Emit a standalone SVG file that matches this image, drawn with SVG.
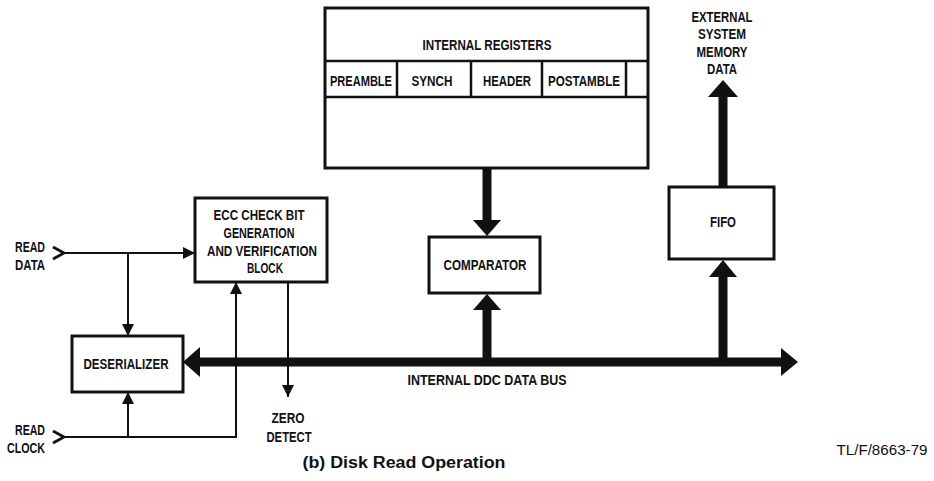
<svg xmlns="http://www.w3.org/2000/svg" width="934" height="481" viewBox="0 0 934 481">
<style>
.box{fill:#fff;stroke:#111;stroke-width:3}
.cell{fill:none;stroke:#111;stroke-width:2.5}
.thin{fill:none;stroke:#111;stroke-width:2}
.thick{fill:none;stroke:#111;stroke-width:9}
.head{fill:#111;stroke:none}
.lbl{font-family:"Liberation Sans",Arial,sans-serif;font-weight:bold;font-size:14.5px;fill:#111;text-anchor:middle}
.chev{fill:none;stroke:#111;stroke-width:2.8;stroke-linejoin:miter}
</style>
<defs>
<marker id="ah" viewBox="0 0 12 12" refX="12" refY="6" markerWidth="12" markerHeight="12" markerUnits="userSpaceOnUse" orient="auto">
<path d="M0,0 L12,6 L0,12 Z" fill="#111"/>
</marker>
</defs>
<rect width="934" height="481" fill="#fff"/>

<g id="connectors">
<!-- READ DATA input -->
<polyline class="chev" points="53,247 64,253 53,259"/>
<line class="thin" x1="64" y1="253" x2="195" y2="253" marker-end="url(#ah)"/>
<line class="thin" x1="128" y1="253" x2="128" y2="336" marker-end="url(#ah)"/>
<!-- READ CLOCK input -->
<polyline class="chev" points="53,431 64,437 53,443"/>
<line class="thin" x1="64" y1="437" x2="237" y2="437"/>
<line class="thin" x1="128" y1="437" x2="128" y2="392" marker-end="url(#ah)"/>
<line class="thin" x1="236" y1="437" x2="236" y2="282" marker-end="url(#ah)"/>
<!-- zero detect -->
<line class="thin" x1="288" y1="282" x2="288" y2="397" marker-end="url(#ah)"/>
<!-- bus -->
<line class="thick" x1="198" y1="362" x2="783" y2="362" stroke-width="8"/>
<polygon class="head" points="183,362 200,347 200,377"/>
<polygon class="head" points="798,362 781,348 781,376"/>
<!-- registers to comparator -->
<line class="thick" x1="487" y1="168" x2="487" y2="222"/>
<polygon class="head" points="473,220 501,220 487,236"/>
<!-- bus to comparator -->
<line class="thick" x1="487" y1="362" x2="487" y2="308"/>
<polygon class="head" points="473,310 501,310 487,294"/>
<!-- bus to FIFO -->
<line class="thick" x1="723" y1="362" x2="723" y2="275"/>
<polygon class="head" points="709,277 737,277 723,260"/>
<!-- FIFO to external -->
<line class="thick" x1="723" y1="187" x2="723" y2="95"/>
<polygon class="head" points="708,97 738,97 723,80"/>
</g>

<g id="registers">
<rect class="box" x="325" y="8" width="323" height="160"/>
<line class="cell" x1="325" y1="61" x2="648" y2="61"/>
<line class="cell" x1="325" y1="97" x2="648" y2="97"/>
<line class="cell" x1="397" y1="61" x2="397" y2="97"/>
<line class="cell" x1="471" y1="61" x2="471" y2="97"/>
<line class="cell" x1="542" y1="61" x2="542" y2="97"/>
<line class="cell" x1="626" y1="61" x2="626" y2="97"/>
<text class="lbl" x="487" y="50" textLength="129" lengthAdjust="spacingAndGlyphs">INTERNAL REGISTERS</text>
<text class="lbl" x="361" y="86" textLength="62" lengthAdjust="spacingAndGlyphs">PREAMBLE</text>
<text class="lbl" x="432" y="86" textLength="41" lengthAdjust="spacingAndGlyphs">SYNCH</text>
<text class="lbl" x="507" y="86" textLength="48" lengthAdjust="spacingAndGlyphs">HEADER</text>
<text class="lbl" x="584" y="86" textLength="72" lengthAdjust="spacingAndGlyphs">POSTAMBLE</text>
</g>

<g id="ecc">
<rect class="box" x="195" y="198" width="132" height="84"/>
<text class="lbl" x="259" y="220" textLength="91" lengthAdjust="spacingAndGlyphs">ECC CHECK BIT</text>
<text class="lbl" x="259" y="238" textLength="71" lengthAdjust="spacingAndGlyphs">GENERATION</text>
<text class="lbl" x="262" y="256" textLength="110" lengthAdjust="spacingAndGlyphs">AND VERIFICATION</text>
<text class="lbl" x="265" y="273" textLength="36" lengthAdjust="spacingAndGlyphs">BLOCK</text>
</g>

<g id="deserializer">
<rect class="box" x="72" y="336" width="111" height="56"/>
<text class="lbl" x="126" y="369" textLength="85" lengthAdjust="spacingAndGlyphs">DESERIALIZER</text>
</g>

<g id="comparator">
<rect class="box" x="429" y="237" width="111" height="56"/>
<text class="lbl" x="485" y="270" textLength="83" lengthAdjust="spacingAndGlyphs">COMPARATOR</text>
</g>

<g id="fifo">
<rect class="box" x="669" y="187" width="105" height="72"/>
<text class="lbl" x="723" y="227" textLength="26" lengthAdjust="spacingAndGlyphs">FIFO</text>
</g>

<g id="labels">
<text class="lbl" x="30" y="252" textLength="30" lengthAdjust="spacingAndGlyphs">READ</text>
<text class="lbl" x="30" y="270" textLength="30" lengthAdjust="spacingAndGlyphs">DATA</text>
<text class="lbl" x="30" y="435" textLength="30" lengthAdjust="spacingAndGlyphs">READ</text>
<text class="lbl" x="26" y="453" textLength="38" lengthAdjust="spacingAndGlyphs">CLOCK</text>
<text class="lbl" x="288" y="423" textLength="33" lengthAdjust="spacingAndGlyphs">ZERO</text>
<text class="lbl" x="289" y="442" textLength="45" lengthAdjust="spacingAndGlyphs">DETECT</text>
<text class="lbl" x="487" y="385" textLength="159" lengthAdjust="spacingAndGlyphs">INTERNAL DDC DATA BUS</text>
<text class="lbl" x="722" y="22" textLength="61" lengthAdjust="spacingAndGlyphs">EXTERNAL</text>
<text class="lbl" x="722" y="39" textLength="48" lengthAdjust="spacingAndGlyphs">SYSTEM</text>
<text class="lbl" x="722" y="57" textLength="51" lengthAdjust="spacingAndGlyphs">MEMORY</text>
<text class="lbl" x="722" y="74" textLength="30" lengthAdjust="spacingAndGlyphs">DATA</text>
<text x="882" y="455" font-family="'Liberation Sans',Arial,sans-serif" font-size="14" fill="#111" text-anchor="middle" textLength="91" lengthAdjust="spacingAndGlyphs">TL/F/8663-79</text>
<text x="404" y="468" font-family="'Liberation Sans',Arial,sans-serif" font-size="16" font-weight="bold" fill="#111" text-anchor="middle" textLength="203" lengthAdjust="spacingAndGlyphs">(b) Disk Read Operation</text>
</g>
</svg>
